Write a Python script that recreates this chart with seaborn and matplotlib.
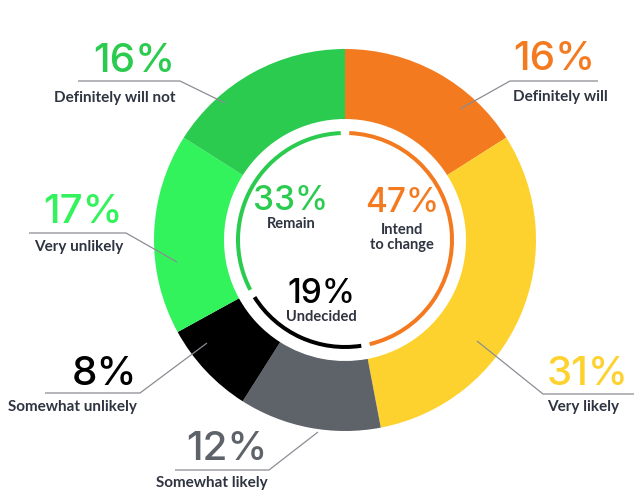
import matplotlib
matplotlib.use("Agg")
from matplotlib import pyplot as plt
import seaborn as sns

# outer ring, clockwise from 12 o'clock
categories = ['Definitely will', 'Very likely', 'Somewhat likely',
              'Somewhat unlikely', 'Very unlikely', 'Definitely will not']
shares = [16, 31, 12, 8, 17, 16]
ring_colors = ['#F47A20', '#FDD22F', '#5E6269', '#000000', '#33F35C', '#2ACB4E']

# inner summary arcs, clockwise from 12 o'clock
groups = ['Intend\nto change', 'Undecided', 'Remain']
group_shares = [47, 19, 33]
group_colors = ['#F47A20', '#000000', '#2ACB4E']

W, H = 634, 495
CX, CY = 345, 240
TEXT = '#2E3440'
NUM_FONT = ['Inter', 'Lato', 'DejaVu Sans']

sns.set_theme(style='white')
plt.rcParams['font.family'] = ['Lato', 'DejaVu Sans']

fig = plt.figure(figsize=(W / 100, H / 100), dpi=100)
ax = fig.add_axes([0, 0, 1, 1])

# y axis is flipped below, so counterclock=True reads clockwise on screen
ax.pie(shares, colors=ring_colors, center=(CX, CY), radius=191,
       startangle=-90, counterclock=True,
       wedgeprops=dict(width=70, linewidth=0))

gap = 1.3
vals, cols = [], []
for v, c in zip(group_shares, group_colors):
    vals += [v, gap]
    cols += [c, 'none']
gap_deg = gap * 360 / sum(vals)
ax.pie(vals, colors=cols, center=(CX, CY), radius=109,
       startangle=-90 + gap_deg / 2, counterclock=True,
       wedgeprops=dict(width=4, linewidth=0))

ax.set_xlim(0, W)
ax.set_ylim(H, 0)
ax.set_aspect('auto')
ax.axis('off')

# label layout: (ha, x, pct baseline, label baseline, leader line points)
layout = {
    'Definitely will':     ('left', 513, 70, 101, [(598, 81), (510, 81), (460, 109)]),
    'Very likely':         ('left', 547, 385, 411, [(634, 394), (543, 394), (477, 341)]),
    'Somewhat likely':     ('right', 268, 460, 487, [(175, 470), (269, 470), (318, 432)]),
    'Somewhat unlikely':   ('right', 137, 385, 411, [(45, 393), (140, 393), (207, 343)]),
    'Very unlikely':       ('right', 123, 223, 251, [(29, 233), (126, 233), (177, 262)]),
    'Definitely will not': ('right', 175, 72, 102, [(78, 81), (180, 81), (225, 103)]),
}

for name, share, color in zip(categories, shares, ring_colors):
    ha, x, yp, yl, pts = layout[name]
    xs, ys = zip(*pts)
    ax.plot(xs, ys, color='#8A8D93', lw=0.9, solid_capstyle='butt')
    ax.text(x, yp, f'{share}%', ha=ha, va='baseline', fontsize=29,
            family=NUM_FONT, fontweight='medium', color=color)
    ax.text(x, yl, name, ha=ha, va='baseline', fontsize=11,
            fontweight='bold', color=TEXT)

center_layout = {
    'Intend\nto change': (402, 212, [234, 249]),
    'Undecided': (321, 303, [321]),
    'Remain': (291, 210, [228]),
}
for name, share, color in zip(groups, group_shares, group_colors):
    x, yp, yls = center_layout[name]
    ax.text(x, yp, f'{share}%', ha='center', va='baseline', fontsize=24,
            family=NUM_FONT, fontweight='medium', color=color)
    for line, yl in zip(name.split('\n'), yls):
        ax.text(x, yl, line, ha='center', va='baseline', fontsize=10.5,
                fontweight='bold', color=TEXT)

fig.savefig('out.png', dpi=100)
